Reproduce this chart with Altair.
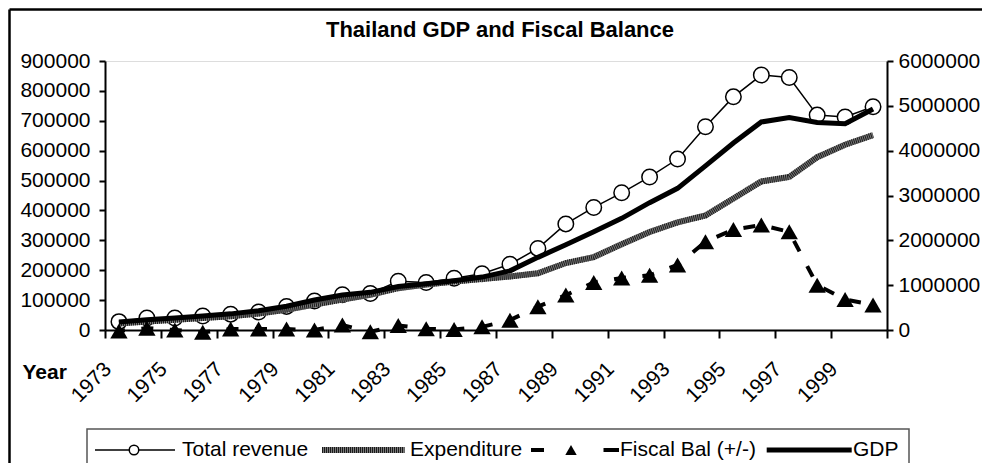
import altair as alt
import pandas as pd

# ---- data ----
years = list(range(1973, 2001))
revenue = [28000, 40000, 40000, 47000, 53000, 60000, 79000, 97000, 118000, 122000,
           163000, 159000, 173000, 188000, 220000, 273000, 355000, 410000, 459000, 512000,
           572000, 680000, 780000, 853000, 845000, 719000, 713000, 747000]
expenditure = [22000, 28000, 34000, 40000, 46000, 55000, 68000, 85000, 102000, 118000,
               140000, 152000, 162000, 171000, 179000, 190000, 224000, 244000, 287000, 328000,
               360000, 383000, 440000, 497000, 512000, 578000, 620000, 652000]
fiscal_bal = [-20000, 40000, 0, -50000, 20000, 20000, 20000, 0, 110000, -40000,
              100000, 30000, 10000, 70000, 220000, 520000, 780000, 1060000, 1160000, 1220000,
              1450000, 1970000, 2240000, 2340000, 2190000, 1000000, 680000, 560000]
gdp = [180000, 230000, 270000, 310000, 360000, 430000, 530000, 670000, 780000, 840000,
       970000, 1030000, 1100000, 1180000, 1320000, 1620000, 1900000, 2190000, 2490000, 2840000,
       3160000, 3660000, 4170000, 4640000, 4740000, 4630000, 4600000, 4930000]
left_ticks = list(range(0, 900001, 100000))
right_ticks = list(range(0, 6000001, 1000000))
series_names = ["Total revenue", "Expenditure", "Fiscal Bal (+/-)", "GDP"]
title_text = "Thailand GDP and Fiscal Balance"

df = pd.DataFrame({
    "Year": years,
    "Total revenue": revenue,
    "Expenditure": expenditure,
    "Fiscal Bal (+/-)": fiscal_bal,
    "GDP": gdp,
})

FONT = "Liberation Sans"
FS = 21
PW, PH = 782, 269

boundaries = [y - 0.5 for y in years] + [years[-1] + 0.5]

x_enc = alt.X(
    "Year:Q",
    scale=alt.Scale(domain=[years[0] - 0.5, years[-1] + 0.5], nice=False, zero=False),
    axis=alt.Axis(
        values=boundaries,
        labelExpr="(datum.value < 2000 && (datum.value + 0.5) % 2 == 1) ? format(datum.value + 0.5, 'd') : ''",
        labelAngle=315, labelAlign="right", labelBaseline="top",
        labelPadding=20, labelOffset=-5, labelOverlap=False, labelFlush=False, labelBound=False,
        tickSize=8, tickWidth=2, tickColor="black",
        domainColor="black", domainWidth=2, grid=False,
        labelFont=FONT, labelFontSize=FS, labelColor="black",
        title="Year", titleFont=FONT, titleFontSize=FS, titleFontWeight="bold",
        titleColor="black", titleAngle=0, titleAlign="left", titleBaseline="alphabetic",
        titleX=-83, titleY=48,
    ),
)
x_plain = alt.X("Year:Q", scale=alt.Scale(domain=[years[0] - 0.5, years[-1] + 0.5], nice=False, zero=False))

left_dom = [0, 900000]
right_dom = [0, 6000000]

common_axis = dict(
    format="d", grid=False, title=None, labelFont=FONT, labelFontSize=FS,
    labelColor="black", tickColor="black", tickWidth=2, tickSize=6,
    domainColor="black", domainWidth=2, labelFlush=False, labelOverlap=False,
)


def yenc(field, dom, axis=None):
    return alt.Y(f"{field}:Q", scale=alt.Scale(domain=dom, nice=False, zero=True),
                 axis=axis)


base = alt.Chart(df)

rev_line = base.mark_line(color="black", strokeWidth=1.5).encode(
    x=x_enc,
    y=yenc("Total revenue", left_dom,
           alt.Axis(orient="left", values=left_ticks, labelPadding=9, **common_axis)),
)
rev_pts = base.mark_point(shape="circle", filled=True, fill="white", stroke="black",
                          strokeWidth=1.5, size=240, opacity=1).encode(
    x=x_plain, y=yenc("Total revenue", left_dom))
exp_base = base.mark_line(color="#7a7a7a", strokeWidth=6).encode(
    x=x_plain, y=yenc("Expenditure", left_dom))
exp_hatch = base.mark_line(color="#1a1a1a", strokeWidth=6, strokeDash=[1, 1]).encode(
    x=x_plain, y=yenc("Expenditure", left_dom))

gdp_line = base.mark_line(color="black", strokeWidth=5).encode(
    x=x_plain,
    y=yenc("GDP", right_dom,
           alt.Axis(orient="right", values=right_ticks, labelPadding=5, **common_axis)),
)
fis_line = base.mark_line(color="black", strokeWidth=4, strokeDash=[12, 16.5],
                          strokeDashOffset=6).encode(
    x=x_plain, y=yenc("Fiscal Bal (+/-)", right_dom))
fis_pts = base.mark_point(shape="triangle-up", filled=True, color="black", size=300, opacity=1).encode(
    x=x_plain, y=yenc("Fiscal Bal (+/-)", right_dom))

# ---- decorations: chart frame, title and legend ----
dummy = alt.Data(values=[{"k": 1}])


def rule(x1, x2, y1, y2, color="black", width=2, dash=None):
    kw = dict(color=color, strokeWidth=width)
    if dash is not None:
        kw["strokeDash"] = dash
    return alt.Chart(dummy).mark_rule(**kw).encode(
        x=alt.value(x1), x2=alt.value(x2), y=alt.value(y1), y2=alt.value(y2))


def label(txt, x, y, align="left", baseline="middle", size=FS, weight="normal"):
    return alt.Chart(dummy).mark_text(text=txt, font=FONT, fontSize=size, align=align,
                                      baseline=baseline, fontWeight=weight,
                                      color="black").encode(
        x=alt.value(x), y=alt.value(y))


LY = 389
frame = [
    rule(-95.5, -95.5, -51.5, 420, width=2.5),
    rule(-95.5, 900, -51.5, -51.5, width=2.5),
]
title = label(title_text, 395, -24, align="center", baseline="alphabetic", size=22, weight="bold")
legend_box = alt.Chart(dummy).mark_rect(fill="white", stroke="#555555", strokeWidth=1.5).encode(
    x=alt.value(-18), x2=alt.value(804), y=alt.value(368), y2=alt.value(411))
legend = [
    legend_box,
    rule(-10, 70, LY, LY, width=1.5),
    alt.Chart(dummy).mark_point(shape="circle", filled=True, fill="white", stroke="black",
                                strokeWidth=1.5, size=90, opacity=1).encode(
        x=alt.value(29), y=alt.value(LY)),
    label(series_names[0], 77, LY),
    rule(217, 299.5, LY, LY, color="#7a7a7a", width=6),
    rule(217, 299.5, LY, LY, color="#1a1a1a", width=6, dash=[1, 1]),
    label(series_names[1], 305, LY),
    rule(426, 439, LY, LY, width=4),
    alt.Chart(dummy).mark_point(shape="triangle-up", filled=True, color="black",
                                size=130, opacity=1).encode(
        x=alt.value(466), y=alt.value(LY)),
    rule(498.5, 514, LY, LY, width=4),
    label(series_names[2], 515, LY),
    rule(661.7, 746.7, LY, LY, width=5),
    label(series_names[3], 748, LY),
]

chart = alt.layer(
    rev_line, rev_pts, exp_base, exp_hatch, gdp_line, fis_line, fis_pts,
    *frame, title, *legend,
).resolve_scale(y="independent").properties(
    width=PW, height=PH,
    padding={"left": 97, "top": 53, "right": 95, "bottom": 133},
    autosize=alt.AutoSizeParams(type="none"),
).configure_view(stroke="#808080", strokeWidth=1.5).configure(background="white")

chart.save("out.html", embed_options={"renderer": "svg", "actions": False})
